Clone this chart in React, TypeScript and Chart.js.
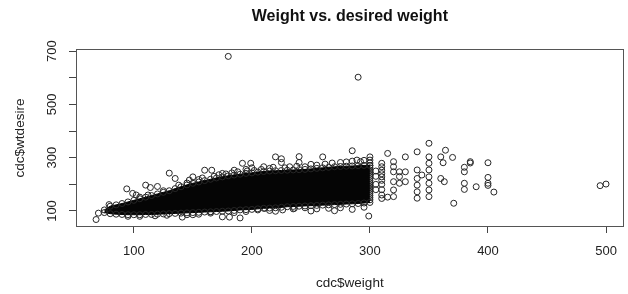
import React, { useEffect, useRef } from 'react';
import { Chart, registerables } from 'chart.js';

Chart.register(...registerables);

const titleText = 'Weight vs. desired weight';
const xTitle = 'cdc$weight';
const yTitle = 'cdc$wtdesire';

const xTicks = [100, 200, 300, 400, 500];
const xTickLabels = ['100', '200', '300', '400', '500'];
const yTicks = [100, 200, 300, 400, 500, 600, 700];
const yTickLabels = ['100', '', '300', '', '500', '', '700'];
const xRange = [51, 515];
const yRange = [43.7, 704];

// dense core of the cloud: for each weight, the lowest and highest desired weight of the solid mass
const bandWeight = [75, 80, 85, 90, 95, 100, 105, 110, 115, 120, 125, 130, 135, 140, 145, 150, 155, 160, 165, 170, 175, 180, 185, 190, 195, 200, 205, 210, 215, 220, 225, 230, 235, 240, 245, 250, 255, 260, 265, 270, 275, 280, 285, 290, 295, 300];
const bandLow = [94, 90, 88, 87, 86, 86, 86, 87, 87, 88, 89, 90, 91, 92, 93, 94, 95, 96, 97, 98, 99, 100, 102, 104, 105, 106, 108, 110, 111, 112, 114, 116, 117, 118, 119, 120, 121, 122, 123, 124, 125, 126, 127, 128, 130, 132];
const bandHigh = [104, 118, 123, 128, 134, 140, 146, 152, 158, 164, 170, 176, 184, 191, 198, 204, 209, 214, 219, 224, 228, 232, 235, 238, 241, 243, 246, 248, 250, 251, 252, 253, 254, 255, 256, 258, 260, 262, 264, 266, 267, 268, 269, 270, 271, 271];

// scattered individual observations (outliers, ragged fringe, the stacked columns at round weights)
const sparseWeight = [68, 70, 79, 94, 99, 102, 110, 114, 120, 130, 135, 141, 147, 150, 150, 160, 166, 175, 185, 175, 181, 190, 192, 199, 195, 200, 210, 165, 205, 211, 220, 226, 220, 225, 225, 240, 240, 236, 250, 250, 260, 270, 285, 289, 300, 300, 300, 299, 290, 180,
  105, 112, 125, 138, 145, 155, 158, 168, 172, 178, 183, 188, 196, 202, 208, 215, 218, 228, 232, 238, 245, 255, 262, 268, 275, 280, 285, 292, 295,
  95, 105, 118, 128, 145, 155, 165, 185, 195, 215, 235, 245, 255, 265, 275, 285, 295,
  300, 300, 300, 300, 300, 300, 300, 300, 300, 300, 300, 300, 300, 300, 300, 300, 300,
  305, 305, 305, 305, 310, 310, 310, 310, 310, 310, 310, 310, 310, 310, 315, 315, 320, 320, 320, 320, 320, 320, 325, 325, 325, 330, 330, 330,
  340, 340, 340, 340, 340, 340, 344, 350, 350, 350, 350, 350, 350, 350, 350, 360, 362, 364, 370, 360, 363, 371,
  380, 380, 385, 385, 380, 380, 390, 400, 400, 400, 400, 405, 495, 500];
const sparseDesire = [68, 92, 124, 183, 166, 160, 197, 188, 192, 242, 222, 77, 216, 228, 86, 253, 253, 241, 253, 78, 77, 74, 279, 279, 256, 262, 266, 97, 104, 110, 99, 104, 303, 296, 282, 304, 282, 110, 275, 100, 303, 101, 326, 291, 303, 291, 280, 81, 602, 680,
  152, 160, 176, 197, 205, 218, 224, 230, 236, 239, 243, 247, 250, 252, 256, 260, 264, 262, 266, 268, 266, 272, 276, 280, 282, 284, 287, 285, 290,
  80, 80, 82, 84, 86, 88, 92, 94, 98, 102, 108, 112, 108, 110, 112, 106, 114,
  142, 150, 158, 166, 174, 182, 190, 198, 206, 214, 222, 230, 238, 246, 254, 262, 270,
  250, 230, 200, 180, 279, 266, 253, 240, 228, 215, 200, 180, 160, 147, 316, 152, 285, 266, 247, 210, 179, 154, 247, 229, 204, 303, 247, 210,
  322, 254, 222, 197, 172, 148, 235, 354, 303, 279, 254, 228, 204, 179, 154, 303, 281, 328, 301, 222, 210, 129,
  264, 247, 285, 280, 204, 181, 191, 281, 226, 204, 196, 171, 195, 201];

const FONT = "'Liberation Sans', Arial, Helvetica, sans-serif";

const pointLook = {
  pointRadius: 3,
  pointHoverRadius: 3,
  pointBorderWidth: 1,
  pointBorderColor: '#262626',
  pointBackgroundColor: 'rgba(0,0,0,0)',
};

const framePlugin = {
  id: 'frameAndTitle',
  afterDraw(chart: any) {
    const { ctx, chartArea: a } = chart;
    ctx.save();
    ctx.strokeStyle = '#555';
    ctx.lineWidth = 1;
    ctx.strokeRect(Math.round(a.left) + 0.5, Math.round(a.top) - 0.5, Math.round(a.right - a.left) - 1, Math.round(a.bottom - a.top) + 1);
    ctx.fillStyle = '#111';
    ctx.font = `bold 16px ${FONT}`;
    ctx.textAlign = 'center';
    ctx.textBaseline = 'alphabetic';
    ctx.fillText(titleText, (a.left + a.right) / 2, 21);
    ctx.restore();
  },
};

export default function App() {
  const ref = useRef<HTMLCanvasElement | null>(null);
  useEffect(() => {
    if (!ref.current) return;
    const chart = new Chart(ref.current, {
      type: 'scatter',
      data: {
        datasets: [
          {
            label: 'low',
            data: bandWeight.map((w, i) => ({ x: w, y: bandLow[i] })),
            showLine: true,
            borderColor: '#000',
            borderWidth: 1,
            fill: false,
            ...pointLook,
          },
          {
            label: 'high',
            data: bandWeight.map((w, i) => ({ x: w, y: bandHigh[i] })),
            showLine: true,
            borderColor: '#000',
            borderWidth: 1,
            fill: '-1',
            backgroundColor: '#050505',
            ...pointLook,
          },
          {
            label: 'points',
            data: sparseWeight.map((w, i) => ({ x: w, y: sparseDesire[i] })),
            showLine: false,
            ...pointLook,
          },
        ],
      } as any,
      options: {
        responsive: false,
        animation: false,
        events: [],
        layout: { padding: { top: 50, right: 2, left: 0, bottom: 0 } },
        plugins: {
          legend: { display: false },
          tooltip: { enabled: false },
          title: { display: false },
        },
        scales: {
          x: {
            type: 'linear',
            min: xRange[0],
            max: xRange[1],
            afterBuildTicks: (s: any) => {
              s.ticks = xTicks.map((v) => ({ value: v }));
            },
            afterFit: (s: any) => {
              s.height = 68;
            },
            ticks: {
              autoSkip: false,
              minRotation: 0,
              maxRotation: 0,
              padding: 11,
              color: '#222',
              font: { family: FONT, size: 13 },
              callback: (_v: any, i: number) => xTickLabels[i],
            },
            grid: { display: true, drawOnChartArea: false, drawTicks: true, tickLength: 7, color: '#444', lineWidth: 1 },
            border: { display: true, color: '#555', width: 1 },
            title: { display: true, text: xTitle, color: '#222', font: { family: FONT, size: 13.5 }, padding: { top: 0, bottom: 3 } },
          },
          y: {
            type: 'linear',
            min: yRange[0],
            max: yRange[1],
            afterBuildTicks: (s: any) => {
              s.ticks = yTicks.map((v) => ({ value: v }));
            },
            afterFit: (s: any) => {
              s.width = 76;
            },
            ticks: {
              autoSkip: false,
              minRotation: 90,
              maxRotation: 90,
              crossAlign: 'center',
              padding: 5.5,
              color: '#222',
              font: { family: FONT, size: 13 },
              callback: (_v: any, i: number) => yTickLabels[i],
            },
            grid: { display: true, drawOnChartArea: false, drawTicks: true, tickLength: 7, color: '#444', lineWidth: 1 },
            border: { display: true, color: '#555', width: 1 },
            title: { display: true, text: yTitle, color: '#222', font: { family: FONT, size: 13.5 }, padding: { top: 12, bottom: 0 } },
          },
        },
      } as any,
      plugins: [framePlugin],
    });
    return () => chart.destroy();
  }, []);
  return (
    <div style={{ position: 'absolute', left: 0, top: 0, width: 628, height: 294, background: '#fff' }}>
      <canvas ref={ref} width={628} height={294} style={{ display: 'block' }} />
    </div>
  );
}
